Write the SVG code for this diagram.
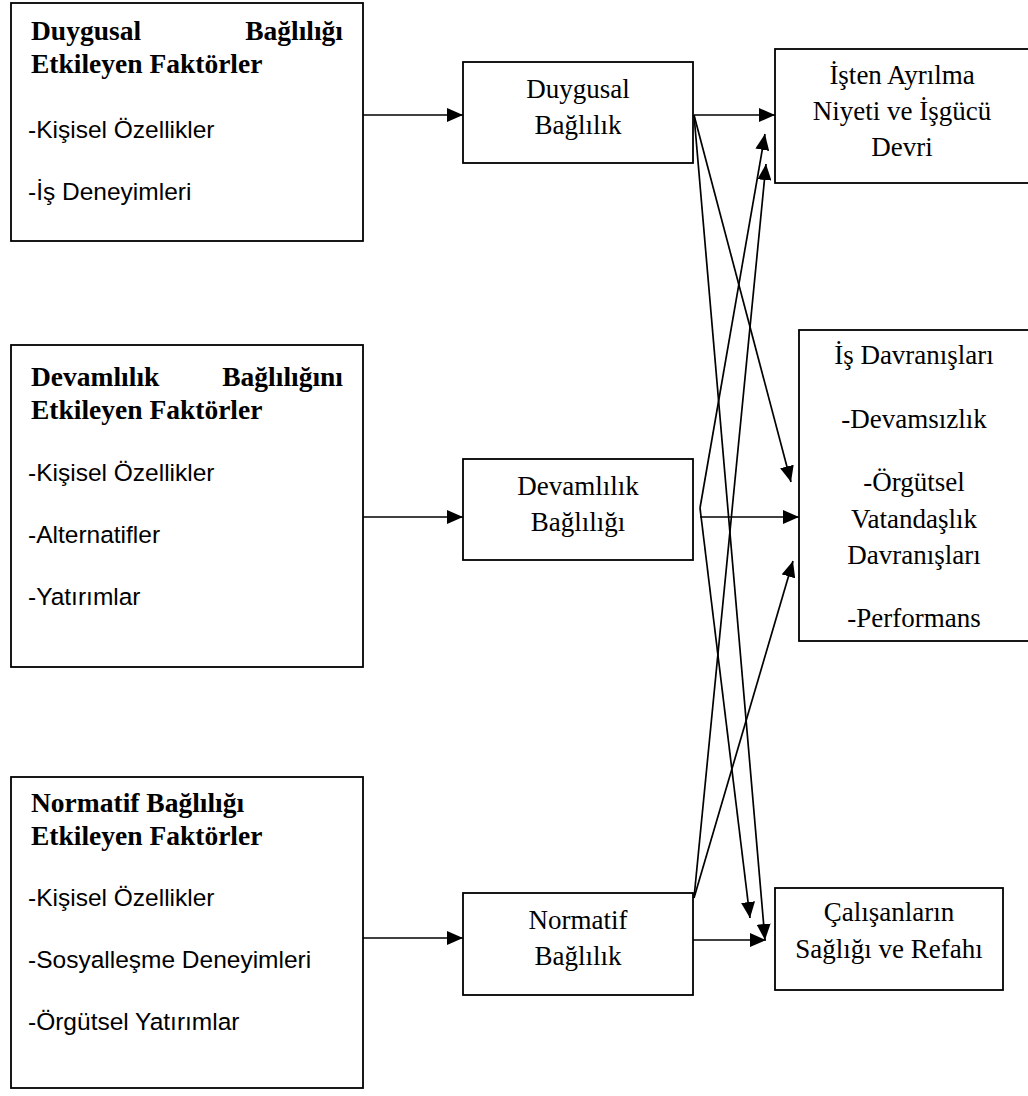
<svg xmlns="http://www.w3.org/2000/svg" width="1028" height="1096" viewBox="0 0 1028 1096">
<style>
.box{fill:#fff;stroke:#000;stroke-width:1.8}
.ln{fill:none;stroke:#000;stroke-width:1.7}
.tb{font-family:"Liberation Serif","Times New Roman",serif;font-size:27.5px;font-weight:bold;fill:#000}
.ts{font-family:"Liberation Serif","Times New Roman",serif;font-size:27px;fill:#000;text-anchor:middle}
.ss{font-family:"Liberation Sans",Arial,sans-serif;font-size:24.5px;fill:#000}
</style>
<defs>
<marker id="ah" viewBox="0 0 16 14" refX="16" refY="7" markerWidth="16" markerHeight="14" markerUnits="userSpaceOnUse" orient="auto"><path d="M0,0 L16,7 L0,14 z" fill="#000"/></marker>
</defs>
<rect width="1028" height="1096" fill="#fff"/>
<g id="connectors">
<line class="ln" x1="363" y1="115" x2="463" y2="115" marker-end="url(#ah)"/>
<line class="ln" x1="363" y1="517" x2="463" y2="517" marker-end="url(#ah)"/>
<line class="ln" x1="363" y1="938" x2="463" y2="938" marker-end="url(#ah)"/>
<line class="ln" x1="694" y1="115" x2="775" y2="115" marker-end="url(#ah)"/>
<line class="ln" x1="694" y1="115" x2="791" y2="482" marker-end="url(#ah)"/>
<line class="ln" x1="694" y1="115" x2="765" y2="940" marker-end="url(#ah)"/>
<line class="ln" x1="700" y1="517" x2="799" y2="517" marker-end="url(#ah)"/>
<line class="ln" x1="700" y1="508" x2="765" y2="134" marker-end="url(#ah)"/>
<line class="ln" x1="700" y1="508" x2="750" y2="918" marker-end="url(#ah)"/>
<line class="ln" x1="693" y1="940" x2="766" y2="940" marker-end="url(#ah)"/>
<line class="ln" x1="694" y1="898" x2="766" y2="164" marker-end="url(#ah)"/>
<line class="ln" x1="694" y1="898" x2="793" y2="561" marker-end="url(#ah)"/>
</g>
<g id="n-left1">
<rect class="box" x="11" y="3" width="352" height="238"/>
<text class="tb" x="31" y="40">Duygusal</text>
<text class="tb" x="343" y="40" text-anchor="end">Bağlılığı</text>
<text class="tb" x="31" y="73">Etkileyen Faktörler</text>
<text class="ss" x="28" y="138">-Kişisel Özellikler</text>
<text class="ss" x="28" y="200">-İş Deneyimleri</text>
</g>
<g id="n-left2">
<rect class="box" x="11" y="345" width="352" height="322"/>
<text class="tb" x="31" y="386">Devamlılık</text>
<text class="tb" x="343" y="386" text-anchor="end">Bağlılığını</text>
<text class="tb" x="31" y="419">Etkileyen Faktörler</text>
<text class="ss" x="28" y="481">-Kişisel Özellikler</text>
<text class="ss" x="28" y="543">-Alternatifler</text>
<text class="ss" x="28" y="605">-Yatırımlar</text>
</g>
<g id="n-left3">
<rect class="box" x="11" y="777" width="352" height="311"/>
<text class="tb" x="31" y="812">Normatif Bağlılığı</text>
<text class="tb" x="31" y="845">Etkileyen Faktörler</text>
<text class="ss" x="28" y="906">-Kişisel Özellikler</text>
<text class="ss" x="28" y="968">-Sosyalleşme Deneyimleri</text>
<text class="ss" x="28" y="1030">-Örgütsel Yatırımlar</text>
</g>
<g id="n-mid1">
<rect class="box" x="463" y="62" width="230" height="101"/>
<text class="ts" x="578" y="98">Duygusal</text>
<text class="ts" x="578" y="134">Bağlılık</text>
</g>
<g id="n-mid2">
<rect class="box" x="463" y="459" width="230" height="101"/>
<text class="ts" x="578" y="495">Devamlılık</text>
<text class="ts" x="578" y="531">Bağlılığı</text>
</g>
<g id="n-mid3">
<rect class="box" x="463" y="893" width="230" height="102"/>
<text class="ts" x="578" y="929">Normatif</text>
<text class="ts" x="578" y="965">Bağlılık</text>
</g>
<g id="n-right1">
<rect class="box" x="775" y="49" width="255" height="134"/>
<text class="ts" x="902" y="84">İşten Ayrılma</text>
<text class="ts" x="902" y="120">Niyeti ve İşgücü</text>
<text class="ts" x="902" y="156">Devri</text>
</g>
<g id="n-right2">
<rect class="box" x="799" y="330" width="231" height="311"/>
<text class="ts" x="914" y="364">İş Davranışları</text>
<text class="ts" x="914" y="428">-Devamsızlık</text>
<text class="ts" x="914" y="491">-Örgütsel</text>
<text class="ts" x="914" y="528">Vatandaşlık</text>
<text class="ts" x="914" y="564">Davranışları</text>
<text class="ts" x="914" y="627">-Performans</text>
</g>
<g id="n-right3">
<rect class="box" x="775" y="888" width="228" height="102"/>
<text class="ts" x="889" y="921">Çalışanların</text>
<text class="ts" x="889" y="958">Sağlığı ve Refahı</text>
</g>
</svg>
